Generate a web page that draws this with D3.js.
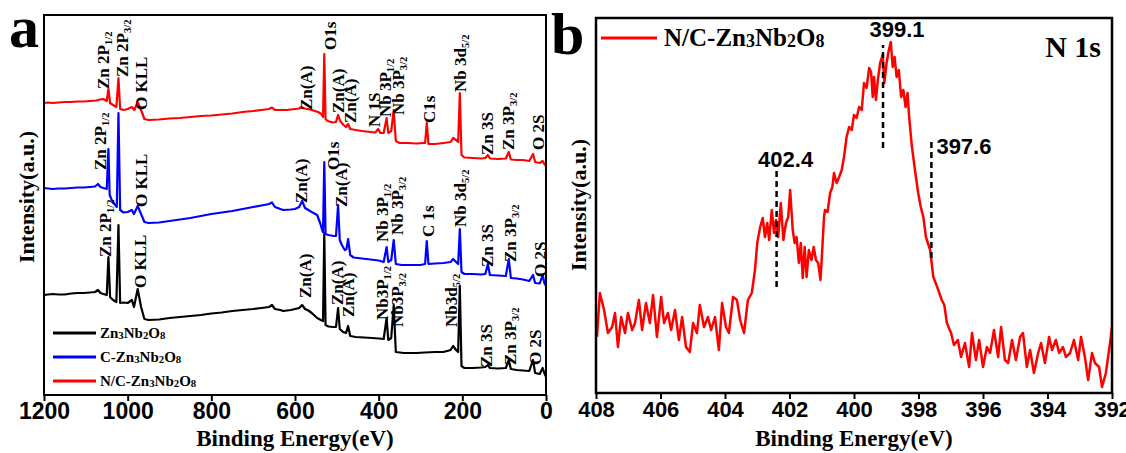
<!DOCTYPE html>
<html><head><meta charset="utf-8">
<script src="https://cdn.jsdelivr.net/npm/d3@7"></script>
<style>
body{margin:0;background:#fff;}
svg{display:block;}
</style></head><body>
<svg id="fig" width="1126" height="453"></svg>
<script>
// ---- (a) XPS survey spectra: [binding energy (eV), intensity (a.u.)] ----
const surveyPristine = [[1200,100],[1190,100.5],[1180,101],[1165,100.5],[1150,100.5],[1135,101.5],[1120,102],[1105,102],[1090,102.5],[1078,103],[1071,105],[1065,102],[1058,101],[1050,100],[1046,138],[1042,98],[1035,95],[1027,93],[1022,170],[1018,92],[1010,92.5],[1000,92],[990,95],[985,88],[976,106],[968,88],[960,76],[950,75],[925,75.5],[900,77],[875,78],[850,79],[825,80],[800,81.5],[775,82.5],[750,84],[725,85],[700,86],[680,87],[662,88],[655,90],[648,86],[635,85],[628,84],[610,85],[600,86],[590,87],[583,90],[576,86],[568,84.5],[560,82],[547,77],[538,75],[533,74],[530,162],[527,70],[520,68.5],[508,68],[502,68],[497,87],[493,66],[485,63],[478,62],[473,69],[468,59],[455,58],[435,57.5],[415,57],[400,56.5],[388,56],[381,77],[377,55],[370,57],[364,90],[359,43],[340,42],[310,42],[290,42.5],[265,43],[245,43],[228,45],[222,49],[215,45],[210,43],[206,109],[202,29],[195,27],[175,27],[155,27.5],[145,28],[139,30],[134,27],[115,26.5],[96,27],[89,35],[84,26],[70,25],[55,24.5],[40,24],[31,35],[26,22],[15,21],[8,27],[4,22],[0,18]];

const surveyC = [[1200,207],[1190,206.5],[1180,206],[1165,206.5],[1150,206.5],[1135,207],[1120,207.5],[1105,207.5],[1090,208],[1078,208.5],[1071,211],[1065,208],[1058,207],[1050,206],[1046,246],[1043,200],[1038,195],[1030,190],[1026,188],[1022,282],[1018,185],[1010,182.5],[1000,183],[990,185],[985,181],[976,189],[968,181],[960,173],[950,172],[925,172.5],[900,174],[875,175.5],[850,177],[825,179],[800,181],[775,182.5],[750,184],[725,186],[700,188],[680,189.5],[662,191],[655,192.5],[648,188],[635,186],[628,185],[610,185.5],[600,186],[590,188],[583,194],[576,187],[568,185],[560,183],[547,180],[540,172],[535,165],[533,163],[530,233],[527,161],[520,160],[508,159],[502,159],[497,190],[493,155],[488,150],[481,145],[477,146],[473,156],[468,140],[460,137.5],[440,136.5],[420,135.5],[400,134.5],[388,133],[381,148],[377,133],[370,135],[364,155],[359,131],[345,130],[320,130],[300,130],[289,131],[285,154],[281,131],[265,131.5],[245,132],[228,133],[222,136],[215,133],[210,131],[206,166],[202,123],[195,121],[175,121],[155,120.5],[145,121],[139,131],[134,120],[115,119.5],[96,119],[89,136],[84,117],[70,116.5],[55,115.5],[40,114],[31,120],[26,112],[15,111.5],[8,120],[4,112],[0,109]];

const surveyNC = [[1200,292],[1190,292.5],[1180,292],[1165,292.5],[1150,293],[1135,293],[1120,293.5],[1105,293.5],[1090,294],[1075,294.5],[1066,295.5],[1058,296],[1050,294],[1046,306],[1042,292],[1035,290],[1027,288],[1022,317],[1018,286],[1010,285],[1000,286],[990,288],[984,285],[976,293],[968,285],[960,276],[950,275],[925,275.5],[900,276.5],[875,277],[850,278],[825,279],[800,279.5],[775,280.5],[750,281.5],[725,283],[700,284],[680,285],[662,286],[655,287.5],[648,285],[635,285],[620,285],[600,286],[590,286.5],[585,288],[578,286.5],[570,286],[560,285],[545,283],[537,281],[533,278],[530,341],[527,276],[522,274],[510,272.5],[502,273],[497,280],[492,274],[484,270],[478,268],[473,271],[468,266],[455,265],[440,264],[420,263],[408,262.5],[401,266],[396,262],[388,262],[381,277],[377,262],[370,264],[364,285],[359,254],[350,252],[330,252],[310,251.5],[292,252],[289,252],[285,272],[281,251],[265,251],[245,252],[228,253],[222,257],[215,255],[210,253],[206,302],[202,240],[195,237.5],[175,237],[155,236.5],[145,237],[139,240],[134,236.5],[115,236],[96,236.5],[89,243],[84,235.5],[70,235],[55,235],[40,234],[31,241],[26,233],[15,232],[8,234],[4,231],[0,229]];

const surveyTicks = [1200, 1000, 800, 600, 400, 200, 0];
const surveyNames = ["Zn3Nb2O8", "C-Zn3Nb2O8", "N/C-Zn3Nb2O8"];

// peak assignments: [label, binding energy (eV), intensity where the label starts]
const peaksPristine = [["Zn 2P_{1/2}",1054,138],["O KLL",970.5,107],["Zn(A)",576,97],["Zn(A)",499.6,90],["Zn(A)",473.3,78],["Nb3P_{1/2}",389.7,75],["Nb3P_{3/2}",353.8,68],["Nb3d_{5/2}",227,68],["Zn 3S",143.4,28],["Zn 3P_{3/2}",86,30],["O 2S",24,30]];
const peaksC = [["Zn 2P_{1/2}",1066,225],["O KLL",968,188],["Zn(A)",583.3,192],["O1s",506.8,225],["Zn(A)",490,188],["Nb 3P_{1/2}",389.7,153],["Nb 3P_{3/2}",356,160],["C 1s",279.7,158],["Nb 3d_{5/2}",203.2,168],["Zn 3S",141,128],["Zn 3P_{3/2}",86,133],["O 2S",12,118]];
const peaksNC = [["Zn 2P_{1/2}",1056.6,306],["Zn 2P_{3/2}",1013.5,318],["O KLL",968,285],["Zn(A)",573.7,285],["O1s",514,345],["Zn(A)",497.2,282],["Zn(A)",468.5,272],["N 1S",408.8,268],["Nb 3P_{1/2}",382.5,278],["Nb 3P_{3/2}",351.4,280],["C1s",277.3,272],["Nb 3d_{5/2}",203.2,303],["Zn 3S",141,240],["Zn 3P_{3/2}",88.5,245],["O 2S",16.8,245]];

// ---- (b) high-resolution N 1s spectrum of N/C-Zn3Nb2O8 ----
const n1sSpectrum = [[407.97,56],[407.88,100],[407.75,83],[407.63,60],[407.50,66],[407.41,80],[407.32,46],[407.22,76],[407.10,60],[407.01,80],[406.88,63],[406.79,70],[406.67,93],[406.57,63],[406.45,90],[406.33,70],[406.23,98],[406.11,56],[405.98,96],[405.89,70],[405.77,80],[405.67,63],[405.55,83],[405.43,53],[405.33,76],[405.21,46],[405.09,41],[404.99,70],[404.87,60],[404.78,88],[404.65,66],[404.53,76],[404.43,63],[404.31,76],[404.19,43],[404.09,90],[403.97,66],[403.88,60],[403.75,96],[403.63,93],[403.53,73],[403.41,60],[403.29,93],[403.17,100],[403.07,123],[403.00,150],[402.91,166],[402.83,175],[402.76,156],[402.69,170],[402.63,153],[402.55,183],[402.48,160],[402.42,173],[402.35,156],[402.27,190],[402.19,153],[402.11,170],[402.04,176],[401.98,203],[401.90,163],[401.84,150],[401.78,156],[401.71,130],[401.65,150],[401.59,115],[401.53,146],[401.47,116],[401.40,143],[401.32,133],[401.25,146],[401.18,133],[401.11,130],[401.04,113],[400.98,146],[400.93,176],[400.90,183],[400.82,181],[400.74,200],[400.67,206],[400.62,220],[400.54,210],[400.46,216],[400.38,223],[400.31,236],[400.23,256],[400.15,266],[400.07,263],[400.00,278],[399.92,275],[399.84,286],[399.76,283],[399.69,310],[399.61,305],[399.53,325],[399.47,321],[399.42,296],[399.38,316],[399.32,293],[399.26,313],[399.19,330],[399.11,338],[399.06,310],[398.99,330],[398.92,343],[398.86,351],[398.80,326],[398.74,336],[398.68,316],[398.61,323],[398.54,296],[398.47,303],[398.40,286],[398.34,300],[398.29,276],[398.21,248],[398.11,223],[398.01,200],[397.93,186],[397.85,176],[397.77,156],[397.64,143],[397.54,116],[397.42,106],[397.28,93],[397.20,88],[397.12,70],[396.99,60],[396.90,48],[396.78,53],[396.68,36],[396.56,50],[396.43,26],[396.34,60],[396.22,33],[396.12,53],[396.00,26],[395.88,46],[395.78,40],[395.66,63],[395.53,36],[395.44,66],[395.32,33],[395.22,30],[395.10,53],[394.98,33],[394.85,56],[394.76,60],[394.64,26],[394.54,43],[394.42,20],[394.29,40],[394.20,50],[394.08,30],[393.95,56],[393.86,43],[393.74,53],[393.64,40],[393.52,46],[393.43,36],[393.30,40],[393.18,53],[393.05,33],[392.96,56],[392.84,36],[392.74,13],[392.62,40],[392.53,30],[392.40,26],[392.31,6],[392.19,20],[392.06,50],[392.00,66]];
const n1sTicks = [408, 406, 404, 402, 400, 398, 396, 394, 392];
// fitted N 1s components: [binding energy (eV), lower intensity, upper intensity]
const n1sComponents = [[402.4,106,223],[399.1,245,348],[397.6,135,253]];

const SERIF = "'Liberation Serif','Times New Roman',serif";
const SANS = "'Liberation Sans',Arial,sans-serif";
const svg = d3.select("#fig");

// text with _{...} subscripts
function richText(sel, str, scale, shift) {
  const parts = str.split(/(_\{[^}]*\})/);
  let off = 0;
  parts.forEach(p => {
    if (!p) return;
    if (p.startsWith("_{")) {
      sel.append("tspan").attr("font-size", scale + "em").attr("dy", shift).text(p.slice(2, -1));
      off += shift;
    } else {
      const t = sel.append("tspan").text(p);
      if (off) { t.attr("dy", -off); off = 0; }
    }
  });
}
const formula = s => s.replace(/(\d)/g, "_{$1}");

// ================= panel (a) =================
const ax = {l: 44, r: 546, t: 15, b: 395};
const xa = d3.scaleLinear().domain([1200, 0]).range([ax.l, ax.r]);
const ya = d3.scaleLinear().domain([0, 380]).range([ax.b, ax.t]);
const ga = svg.append("g");

const lineA = d3.line().x(d => xa(d[0])).y(d => ya(d[1]));
const seriesA = [
  {data: surveyPristine, color: "#000000", peaks: peaksPristine},
  {data: surveyC, color: "#0000ff", peaks: peaksC},
  {data: surveyNC, color: "#ff0000", peaks: peaksNC}
];
seriesA.forEach(s => {
  ga.append("path").datum(s.data).attr("d", lineA)
    .attr("fill", "none").attr("stroke", s.color).attr("stroke-width", 2.2).attr("stroke-linejoin", "round");
});
seriesA.forEach(s => {
  s.peaks.forEach(p => {
    const t = ga.append("text")
      .attr("transform", `translate(${xa(p[1]) + 5.5},${ya(p[2])}) rotate(-90)`)
      .attr("font-family", SERIF).attr("font-weight", "bold").attr("font-size", 17).attr("fill", "#000");
    richText(t, p[0], 0.62, 3);
  });
});

ga.append("rect").attr("x", ax.l).attr("y", ax.t).attr("width", ax.r - ax.l).attr("height", ax.b - ax.t)
  .attr("fill", "none").attr("stroke", "#000").attr("stroke-width", 2);

const axisA = ga.append("g").attr("transform", `translate(0,${ax.b})`)
  .call(d3.axisBottom(xa).tickValues(surveyTicks).tickSize(6).tickPadding(2).tickFormat(d3.format("d")));
axisA.select(".domain").remove();
axisA.selectAll("line").attr("stroke", "#000").attr("stroke-width", 2);
axisA.selectAll("text").attr("font-family", SANS).attr("font-weight", "bold").attr("font-size", 23).attr("fill", "#000");

ga.append("text").attr("x", (ax.l + ax.r) / 2).attr("y", 446).attr("text-anchor", "middle")
  .attr("font-family", SERIF).attr("font-weight", "bold").attr("font-size", 23).text("Binding Energy(eV)");
ga.append("text").attr("transform", `translate(34,197) rotate(-90)`).attr("text-anchor", "middle")
  .attr("font-family", SERIF).attr("font-weight", "bold").attr("font-size", 22).text("Intensity(a.u.)");
ga.append("text").attr("x", 9).attr("y", 47).attr("font-family", SERIF).attr("font-weight", "bold")
  .attr("font-size", 60).text("a");

// legend
const legOrder = [[surveyNames[0], "#000000"], [surveyNames[1], "#0000ff"], [surveyNames[2], "#ff0000"]];
legOrder.forEach((d, i) => {
  const yy = 333 + i * 24;
  ga.append("line").attr("x1", 53).attr("x2", 96).attr("y1", yy).attr("y2", yy)
    .attr("stroke", d[1]).attr("stroke-width", 3);
  const t = ga.append("text").attr("x", 100).attr("y", yy + 5)
    .attr("font-family", SERIF).attr("font-weight", "bold").attr("font-size", 15);
  richText(t, formula(d[0]), 0.72, 1);
});

// ================= panel (b) =================
const bx = {l: 596, r: 1112, t: 18, b: 393};
const xb = d3.scaleLinear().domain([408, 392]).range([bx.l, bx.r]);
const yb = d3.scaleLinear().domain([0, 375]).range([bx.b, bx.t]);
const gb = svg.append("g");

gb.append("path").datum(n1sSpectrum)
  .attr("d", d3.line().x(d => xb(d[0])).y(d => yb(d[1])))
  .attr("fill", "none").attr("stroke", "#ff0000").attr("stroke-width", 2.5).attr("stroke-linejoin", "round");

const compLabelOffset = [[9, "middle", 167], [14, "middle", 37], [5, "start", 154]];
n1sComponents.forEach((c, i) => {
  gb.append("line").attr("x1", xb(c[0])).attr("x2", xb(c[0])).attr("y1", yb(c[1])).attr("y2", yb(c[2]))
    .attr("stroke", "#000").attr("stroke-width", 2.5).attr("stroke-dasharray", "6,4");
  const o = compLabelOffset[i];
  gb.append("text").attr("x", xb(c[0]) + o[0]).attr("y", o[2]).attr("text-anchor", o[1])
    .attr("font-family", SANS).attr("font-weight", "bold").attr("font-size", 22).text(c[0].toFixed(1));
});

gb.append("rect").attr("x", bx.l).attr("y", bx.t).attr("width", bx.r - bx.l).attr("height", bx.b - bx.t)
  .attr("fill", "none").attr("stroke", "#000").attr("stroke-width", 2.5);

const axisB = gb.append("g").attr("transform", `translate(0,${bx.b})`)
  .call(d3.axisBottom(xb).tickValues(n1sTicks).tickSize(6).tickPadding(2).tickFormat(d3.format("d")));
axisB.select(".domain").remove();
axisB.selectAll("line").attr("stroke", "#000").attr("stroke-width", 2);
axisB.selectAll("text").attr("font-family", SANS).attr("font-weight", "bold").attr("font-size", 22).attr("fill", "#000");

gb.append("text").attr("x", (bx.l + bx.r) / 2).attr("y", 446).attr("text-anchor", "middle")
  .attr("font-family", SERIF).attr("font-weight", "bold").attr("font-size", 23).text("Binding Energy(eV)");
gb.append("text").attr("transform", `translate(586,205) rotate(-90)`).attr("text-anchor", "middle")
  .attr("font-family", SERIF).attr("font-weight", "bold").attr("font-size", 22).text("Intensity(a.u.)");
gb.append("text").attr("x", 551).attr("y", 54).attr("font-family", SERIF).attr("font-weight", "bold")
  .attr("font-size", 60).text("b");

gb.append("line").attr("x1", 601).attr("x2", 657).attr("y1", 38).attr("y2", 38)
  .attr("stroke", "#ff0000").attr("stroke-width", 3);
const lb = gb.append("text").attr("x", 664).attr("y", 46)
  .attr("font-family", SERIF).attr("font-weight", "bold").attr("font-size", 25);
richText(lb, formula(surveyNames[2]), 0.72, 1);
gb.append("text").attr("x", 1101).attr("y", 57).attr("text-anchor", "end")
  .attr("font-family", SERIF).attr("font-weight", "bold").attr("font-size", 30).text("N 1s");
</script>
</body></html>
